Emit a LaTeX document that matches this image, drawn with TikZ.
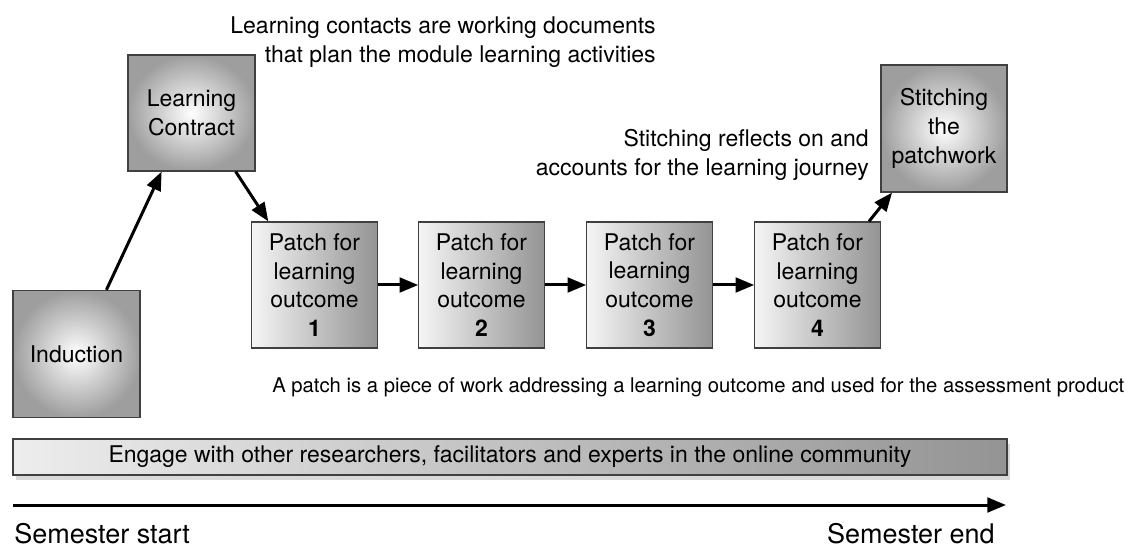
\documentclass[tikz,border=0pt]{standalone}
\usepackage{fontspec}
\setmainfont{TeX Gyre Heros}
\usetikzlibrary{shapes,arrows.meta,shadows}

\tikzset{
  stage/.style={draw=black!75, line width=0.9pt, shading=radial, inner color=white, outer color=black!38, align=center, inner sep=0pt, font=\fontsize{17.25}{21.5}\selectfont},
  patch/.style={draw=black!75, line width=0.9pt, left color=black!4, right color=black!42, align=center, inner sep=0pt, minimum width=94pt, minimum height=94.5pt, font=\fontsize{17.25}{21.5}\selectfont},
  note/.style={inner sep=0.75pt, font=\fontsize{17.25}{22}\selectfont},
  flow/.style={line width=2.25pt, -{Triangle[length=14pt,width=11pt]}},
}

\begin{document}
\begin{tikzpicture}[x=0.75pt,y=0.75pt,yscale=-1,xscale=1]
\useasboundingbox (0,0) rectangle (1136,549);

%Shape: Induction
\node[stage, minimum width=95.25pt, minimum height=95.25pt] (induction) at (76.5,354) {Induction};
%Shape: Learning Contract
\node[stage, minimum width=95.25pt, minimum height=87pt] (contract) at (191.5,113) {Learning\\Contract};
%Shape: Patches
\node[patch] (patch1) at (314.5,285) {Patch for\\learning\\outcome\\\textbf{1}};
\node[patch] (patch2) at (481.5,285) {Patch for\\learning\\outcome\\\textbf{2}};
\node[patch] (patch3) at (649.5,285) {Patch for\\learning\\outcome\\\textbf{3}};
\node[patch] (patch4) at (817.5,285) {Patch for\\learning\\outcome\\\textbf{4}};
%Shape: Stitching
\node[stage, minimum width=94.5pt, minimum height=95.25pt] (stitching) at (944,128.5) {Stitching\\the\\patchwork};
%Shape: Community bar
\node[draw=black!75, line width=0.9pt, left color=black!7, right color=black!42, drop shadow={shadow xshift=2pt, shadow yshift=-4pt, opacity=0.3}, minimum width=745.5pt, minimum height=27pt, inner sep=0pt, font=\fontsize{17.25}{21.5}\selectfont] (community) at (510,457) {Engage with other researchers, facilitators and experts in the online community};

%Straight Lines
\draw[flow] (induction.65) -- (contract.243);
\draw[flow] (contract.307) -- (patch1.126);
\draw[flow] (patch1) -- (patch2);
\draw[flow] (patch2) -- (patch3);
\draw[flow] (patch3) -- (patch4);
\draw[flow] (patch4.51) -- (stitching.231);

%Timeline
\coordinate (tstart) at (13,505);
\coordinate (tend) at (1006,505);
\draw[flow] (tstart) -- (tend);

% Text Node
\node[note, align=right, anchor=east] (contractnote) at (657,42) {Learning contacts are working documents\\that plan the module learning activities};
% Text Node
\node[note, align=right, anchor=east] (stitchnote) at (870,155) {Stitching reflects on and\\accounts for the learning journey};
% Text Node
\node[note, anchor=west, font=\fontsize{15.2}{19}\selectfont] (patchnote) at (271,387) {A patch is a piece of work addressing a learning outcome and used for the assessment product};
% Text Node
\node[note, anchor=west, inner sep=0pt, font=\fontsize{20.25}{24}\selectfont] (startlabel) at (14,534) {Semester start};
% Text Node
\node[note, anchor=east, inner sep=0pt, font=\fontsize{20.25}{24}\selectfont] (endlabel) at (995,534) {Semester end};

\end{tikzpicture}
\end{document}
